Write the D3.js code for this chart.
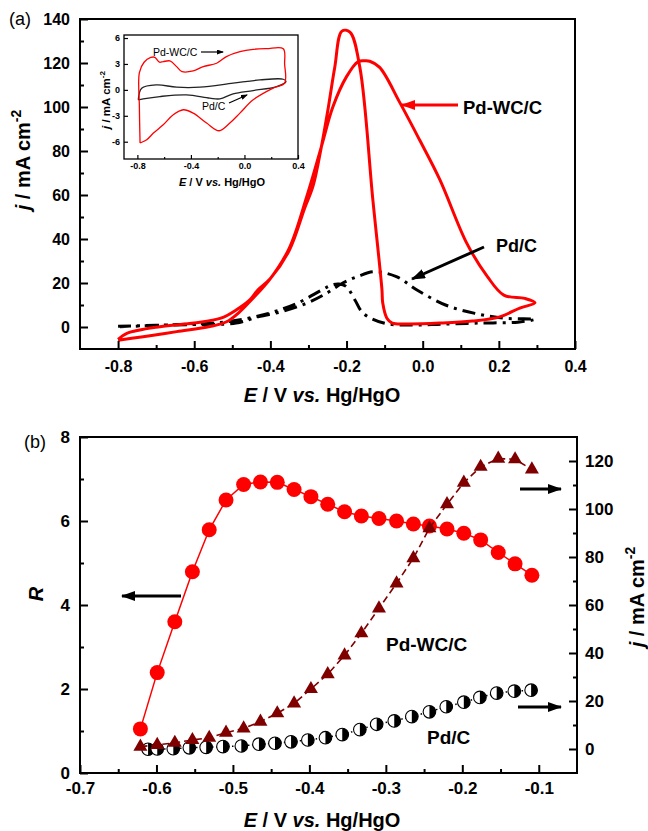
<!DOCTYPE html>
<html>
<head>
<meta charset="utf-8">
<script src="https://cdn.jsdelivr.net/npm/d3@7"></script>
<style>
  body { margin: 0; background: #fff; }
</style>
</head>
<body>
<svg id="chart" width="648" height="831"></svg>
<script>
// ---------- panel (a): CV curves, forward scan then backward scan ----------
const cvWcE = [-0.800, -0.734, -0.646, -0.559, -0.515, -0.480, -0.450, -0.400, -0.350, -0.305, -0.266, -0.236, -0.200, -0.170, -0.152, -0.139, -0.113, -0.060, -0.008, 0.045, 0.116, 0.170, 0.213, 0.268, 0.295,
  0.255, 0.200, 0.130, 0.045, -0.040, -0.080, -0.094, -0.105, -0.107, -0.131, -0.165, -0.191, -0.212, -0.231, -0.249, -0.266, -0.288, -0.310, -0.350, -0.400, -0.433, -0.454, -0.490, -0.530, -0.600, -0.690, -0.777, -0.800];
const cvWcJ = [-6.0, -4.4, -2.1, 0.2, 2.4, 7.0, 12.3, 22, 36, 59, 82, 100, 113.8, 120.6, 121, 120.8, 118, 102, 85, 67, 38, 22.9, 14.5, 13, 11,
  8.6, 4.5, 2.7, 1.8, 1.4, 1.8, 4, 11, 17, 58, 118, 134, 134.5, 118, 98.6, 82, 64, 54, 35, 22, 16.8, 12.3, 7.7, 4.0, 1.8, 0.15, -2.9, -5.6];

const cvPdE = [-0.800, -0.700, -0.600, -0.490, -0.430, -0.370, -0.305, -0.253, -0.210, -0.170, -0.128, -0.069, -0.015, 0.060, 0.137, 0.213, 0.295,
  0.250, 0.150, 0.050, -0.026, -0.100, -0.156, -0.178, -0.200, -0.220, -0.240, -0.265, -0.330, -0.405, -0.514, -0.677, -0.795];
const cvPdJ = [0.3, 0.8, 1.1, 1.8, 4.7, 7.0, 10.8, 15.3, 20, 23, 25.1, 22.9, 16.8, 10, 6.2, 4.0, 3.5,
  2.2, 1.8, 1.3, 0.9, 1.7, 6.2, 12.3, 18.3, 19.5, 19, 16.8, 10.8, 6.2, 2.4, 0.9, 0.15];

// inset: CV in KOH only
const insWcE = [-0.780, -0.785, -0.785, -0.750, -0.700, -0.669, -0.635, -0.607, -0.557, -0.507, -0.466, -0.383, -0.308, -0.208, -0.135, -0.034, 0.065, 0.165, 0.290, 0.300, 0.300, 0.214, 0.065, -0.034, -0.109, -0.189, -0.283, -0.383, -0.457, -0.532, -0.607, -0.680, -0.730, -0.780];
const insWcJ = [-6.15, -2.0, 2.0, 3.2, 3.75, 3.77, 3.2, 3.27, 3.35, 2.69, 2.11, 2.19, 2.69, 3.08, 3.85, 4.42, 4.69, 4.77, 4.77, 3.0, 0.77, 0.2, -1.15, -2.69, -3.84, -4.73, -3.84, -2.69, -2.3, -2.88, -4.04, -5.0, -5.77, -6.15];
const insPdE = [-0.793, -0.768, -0.656, -0.507, -0.333, -0.085, 0.115, 0.290, 0.310, 0.240, 0.065, -0.085, -0.184, -0.259, -0.433, -0.632, -0.757, -0.793];
const insPdJ = [-1.15, 0.19, 0.58, 0.31, 0.31, 0.77, 1.15, 1.23, 0.96, 0.38, -0.08, -0.46, -1.04, -0.96, -0.58, -0.77, -1.04, -1.15];

// ---------- panel (b) ----------
const bE = [-0.621, -0.599, -0.576, -0.553, -0.531, -0.509, -0.486, -0.464, -0.442, -0.420, -0.398, -0.376, -0.354, -0.332, -0.309, -0.286, -0.264, -0.243, -0.220, -0.198, -0.176, -0.153, -0.131, -0.109];
const ratioR = [1.05, 2.39, 3.6, 4.79, 5.79, 6.5, 6.87, 6.93, 6.92, 6.75, 6.58, 6.4, 6.22, 6.12, 6.06, 6.0, 5.93, 5.88, 5.81, 5.71, 5.55, 5.25, 4.98, 4.71];
const jWc = [1, 1.7, 2.6, 3.75, 4.7, 6.8, 8.6, 11.4, 14.9, 19, 25, 31.2, 39, 48.2, 58.6, 69, 79.5, 92, 102, 111, 117.6, 121, 120.7, 116.5];
const pdE = [-0.611, -0.599, -0.578, -0.557, -0.535, -0.513, -0.489, -0.466, -0.445, -0.424, -0.402, -0.379, -0.357, -0.334, -0.312, -0.289, -0.266, -0.243, -0.221, -0.198, -0.177, -0.155, -0.132, -0.110];
const jPd = [-0.1, 0, 0.1, 0.5, 0.7, 1, 1.25, 2, 2.4, 3, 3.75, 4.7, 6, 8.1, 10.3, 11.7, 13.5, 15.5, 17.6, 19.5, 21.5, 23.3, 24.1, 24.5];

// tick values
const aXTicks = [-0.8, -0.6, -0.4, -0.2, 0.0, 0.2, 0.4];
const aXMinor = [-0.7, -0.5, -0.3, -0.1, 0.1, 0.3];
const aYTicks = [0, 20, 40, 60, 80, 100, 120, 140];
const aYMinor = [10, 30, 50, 70, 90, 110, 130];
const insXTicks = [-0.8, -0.4, 0.0, 0.4];
const insXMinor = [-0.6, -0.2, 0.2];
const insYTicks = [-6, -3, 0, 3, 6];
const bXTicks = [-0.7, -0.6, -0.5, -0.4, -0.3, -0.2, -0.1];
const bXMinor = [-0.65, -0.55, -0.45, -0.35, -0.25, -0.15];
const bYLTicks = [0, 2, 4, 6, 8];
const bYLMinor = [1, 3, 5, 7];
const bYRTicks = [0, 20, 40, 60, 80, 100, 120];
const bYRMinor = [10, 30, 50, 70, 90, 110];

const FONT = '"Liberation Sans", Arial, Helvetica, sans-serif';
const RED = '#ff0000';
const DARKRED = '#800000';

const svg = d3.select('#chart');
svg.append('rect').attr('width', 648).attr('height', 831).attr('fill', '#fff');

const defs = svg.append('defs');
function arrowMarker(id, color, w, h) {
  defs.append('marker')
    .attr('id', id)
    .attr('markerUnits', 'userSpaceOnUse')
    .attr('markerWidth', w).attr('markerHeight', h)
    .attr('refX', w - 1).attr('refY', h / 2)
    .attr('orient', 'auto')
    .append('path')
    .attr('d', `M0,0 L${w},${h / 2} L0,${h} Z`)
    .attr('fill', color);
}
arrowMarker('arrRed', RED, 14, 10);
arrowMarker('arrBlk', '#000', 14, 10);
arrowMarker('arrSmall', '#000', 7, 5);

function arrow(g, x1, y1, x2, y2, color, marker, width) {
  g.append('line')
    .attr('x1', x1).attr('y1', y1).attr('x2', x2).attr('y2', y2)
    .attr('stroke', color).attr('stroke-width', width)
    .attr('marker-end', `url(#${marker})`);
}

function addAxis(parent, axisFn, scale, transform, major, minor, len, pad, fmt, fontSize, sw) {
  const ax = parent.append('g').attr('transform', transform);
  ax.call(axisFn(scale).tickValues(major).tickSizeInner(-len).tickSizeOuter(0).tickPadding(pad).tickFormat(fmt));
  if (minor) {
    ax.append('g').call(axisFn(scale).tickValues(minor).tickSizeInner(-len / 2).tickSizeOuter(0).tickFormat(''));
  }
  ax.selectAll('.domain').remove();
  ax.attr('font-family', FONT).attr('font-size', fontSize).attr('font-weight', 'bold');
  ax.selectAll('line').attr('stroke', '#000').attr('stroke-width', sw);
  ax.selectAll('text').attr('fill', '#000');
  return ax;
}

function frame(g, x, y, sw) {
  const [x0, x1] = x.range(), [y0, y1] = y.range();
  g.append('rect')
    .attr('x', x0).attr('y', y1).attr('width', x1 - x0).attr('height', y0 - y1)
    .attr('fill', 'none').attr('stroke', '#000').attr('stroke-width', sw);
}

// "E / V vs. Hg/HgO"
function eTitle(g, cx, cy, size) {
  const t = g.append('text').attr('x', cx).attr('y', cy)
    .attr('text-anchor', 'middle').attr('font-family', FONT)
    .attr('font-size', size).attr('font-weight', 'bold');
  t.append('tspan').attr('font-style', 'italic').text('E');
  t.append('tspan').text(' / V ');
  t.append('tspan').attr('font-style', 'italic').text('vs.');
  t.append('tspan').text(' Hg/HgO');
}

// "j / mA cm-2", rotated
function jTitle(g, cx, cy, size) {
  const t = g.append('text').attr('transform', `translate(${cx},${cy}) rotate(-90)`)
    .attr('text-anchor', 'middle').attr('font-family', FONT)
    .attr('font-size', size).attr('font-weight', 'bold');
  t.append('tspan').attr('font-style', 'italic').text('j');
  t.append('tspan').text(' / mA cm');
  t.append('tspan').attr('font-size', size * 0.7).attr('dy', -size * 0.45).text('-2');
}

function zipPts(xs, ys) { return xs.map((v, i) => [v, ys[i]]); }

// ================= panel (a) =================
function drawPanelA() {
  const g = svg.append('g');
  const x = d3.scaleLinear().domain([-0.9, 0.4]).range([80, 575]);
  const y = d3.scaleLinear().domain([-10, 140]).range([349, 19]);

  const line = d3.line().x(d => x(d[0])).y(d => y(d[1])).curve(d3.curveCatmullRom.alpha(0.5));

  g.append('path').datum(zipPts(cvPdE, cvPdJ))
    .attr('d', line).attr('fill', 'none').attr('stroke', '#000')
    .attr('stroke-width', 3).attr('stroke-dasharray', '13,6,3,6');
  g.append('path').datum(zipPts(cvWcE, cvWcJ))
    .attr('d', line).attr('fill', 'none').attr('stroke', RED)
    .attr('stroke-width', 3).attr('stroke-linejoin', 'round');

  frame(g, x, y, 2);
  addAxis(g, d3.axisBottom, x, 'translate(0,349)', aXTicks, aXMinor, 8, 12, d => d.toFixed(1), 16, 2);
  addAxis(g, d3.axisLeft, y, 'translate(80,0)', aYTicks, aYMinor, 8, 10, d => d, 16, 2);

  eTitle(g, 322, 402, 20);
  jTitle(g, 30, 160, 20);

  g.append('text').attr('x', 9).attr('y', 25).attr('font-family', FONT)
    .attr('font-size', 18).text('(a)');

  // annotations
  arrow(g, 458, 105, 402, 105, RED, 'arrRed', 3);
  g.append('text').attr('x', 463).attr('y', 114).attr('font-family', FONT)
    .attr('font-size', 18.5).attr('font-weight', 'bold').text('Pd-WC/C');
  arrow(g, 484, 247, 412, 279, '#000', 'arrBlk', 3);
  g.append('text').attr('x', 496).attr('y', 252).attr('font-family', FONT)
    .attr('font-size', 18).attr('font-weight', 'bold').text('Pd/C');

  drawInset(g);
}

function drawInset(parent) {
  const g = parent.append('g');
  const x = d3.scaleLinear().domain([-0.9, 0.4]).range([124, 298]);
  const y = d3.scaleLinear().domain([-8, 6.35]).range([159, 35]);
  g.append('rect').attr('x', 124).attr('y', 35).attr('width', 174).attr('height', 124).attr('fill', '#fff');

  const line = d3.line().x(d => x(d[0])).y(d => y(d[1])).curve(d3.curveCatmullRom.alpha(0.5));
  g.append('path').datum(zipPts(insPdE, insPdJ))
    .attr('d', line).attr('fill', 'none').attr('stroke', '#222').attr('stroke-width', 1.3);
  g.append('path').datum(zipPts(insWcE, insWcJ))
    .attr('d', line).attr('fill', 'none').attr('stroke', RED).attr('stroke-width', 1.3);

  frame(g, x, y, 1.3);
  addAxis(g, d3.axisBottom, x, 'translate(0,159)', insXTicks, insXMinor, 4, 4, d => d.toFixed(1), 9, 1.2);
  addAxis(g, d3.axisLeft, y, 'translate(124,0)', insYTicks, null, 4, 4, d => d, 9, 1.2);

  eTitle(g, 222, 186, 11);
  jTitle(g, 110, 100, 11.5);

  g.append('text').attr('x', 153).attr('y', 56).attr('font-family', FONT)
    .attr('font-size', 10.5).text('Pd-WC/C');
  arrow(g, 201, 52, 223, 52, '#000', 'arrSmall', 1.2);
  g.append('text').attr('x', 202).attr('y', 110).attr('font-family', FONT)
    .attr('font-size', 10.5).text('Pd/C');
  arrow(g, 229, 103, 247, 95, '#000', 'arrSmall', 1.2);
}

// ================= panel (b) =================
function drawPanelB() {
  const g = svg.append('g');
  const x = d3.scaleLinear().domain([-0.7, -0.05]).range([80, 577]);
  const yL = d3.scaleLinear().domain([0, 8]).range([773, 437]);
  const yR = d3.scaleLinear().domain([-10, 130]).range([773, 437]);

  // R (left axis), red circles
  g.append('path').datum(zipPts(bE, ratioR))
    .attr('d', d3.line().x(d => x(d[0])).y(d => yL(d[1])))
    .attr('fill', 'none').attr('stroke', RED).attr('stroke-width', 1.5);
  g.selectAll('.rdot').data(zipPts(bE, ratioR)).enter().append('circle')
    .attr('class', 'rdot')
    .attr('cx', d => x(d[0])).attr('cy', d => yL(d[1])).attr('r', 7.5)
    .attr('fill', RED);

  // Pd/C current (right axis), half-filled circles
  g.append('path').datum(zipPts(pdE, jPd))
    .attr('d', d3.line().x(d => x(d[0])).y(d => yR(d[1])))
    .attr('fill', 'none').attr('stroke', '#000').attr('stroke-width', 1.5)
    .attr('stroke-dasharray', '1.5,2.5');
  const half = d3.arc().innerRadius(0).outerRadius(6.3).startAngle(0).endAngle(Math.PI);
  const hc = g.selectAll('.hdot').data(zipPts(pdE, jPd)).enter().append('g')
    .attr('class', 'hdot')
    .attr('transform', d => `translate(${x(d[0])},${yR(d[1])})`);
  hc.append('circle').attr('r', 6.3).attr('fill', '#fff').attr('stroke', '#000').attr('stroke-width', 1.1);
  hc.append('path').attr('d', half).attr('fill', '#000');

  // Pd-WC/C current (right axis), triangles
  g.append('path').datum(zipPts(bE, jWc))
    .attr('d', d3.line().x(d => x(d[0])).y(d => yR(d[1])))
    .attr('fill', 'none').attr('stroke', DARKRED).attr('stroke-width', 1.6)
    .attr('stroke-dasharray', '7,4');
  g.selectAll('.tri').data(zipPts(bE, jWc)).enter().append('path')
    .attr('class', 'tri')
    .attr('transform', d => `translate(${x(d[0])},${yR(d[1])})`)
    .attr('d', d3.symbol().type(d3.symbolTriangle).size(85))
    .attr('fill', DARKRED);

  frame(g, x, yL, 2);
  addAxis(g, d3.axisBottom, x, 'translate(0,773)', bXTicks, bXMinor, 8, 9, d => d.toFixed(1), 17, 2);
  addAxis(g, d3.axisLeft, yL, 'translate(80,0)', bYLTicks, bYLMinor, 8, 10, d => d, 17, 2);
  addAxis(g, d3.axisRight, yR, 'translate(577,0)', bYRTicks, bYRMinor, 8, 8, d => d, 17, 2);

  eTitle(g, 322, 827, 20);
  jTitle(g, 644, 597, 20);
  g.append('text').attr('transform', 'translate(43,594) rotate(-90)')
    .attr('text-anchor', 'middle').attr('font-family', FONT)
    .attr('font-size', 20).attr('font-weight', 'bold').attr('font-style', 'italic').text('R');

  g.append('text').attr('x', 24).attr('y', 448).attr('font-family', FONT)
    .attr('font-size', 18).text('(b)');

  arrow(g, 181, 596, 122, 596, '#000', 'arrBlk', 3);
  arrow(g, 520, 489, 561, 489, '#000', 'arrBlk', 3);
  arrow(g, 518, 707, 561, 707, '#000', 'arrBlk', 3);
  g.append('text').attr('x', 386).attr('y', 651).attr('font-family', FONT)
    .attr('font-size', 19).attr('font-weight', 'bold').text('Pd-WC/C');
  g.append('text').attr('x', 427).attr('y', 744).attr('font-family', FONT)
    .attr('font-size', 19).attr('font-weight', 'bold').text('Pd/C');
}

drawPanelA();
drawPanelB();
</script>
</body>
</html>
